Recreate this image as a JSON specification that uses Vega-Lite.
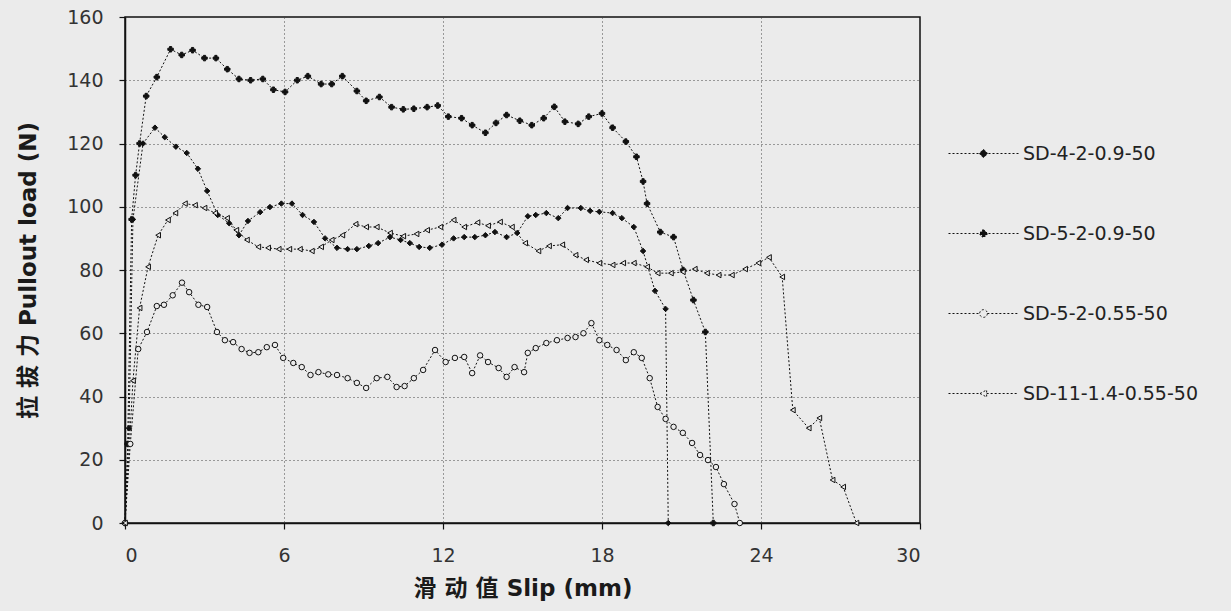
{
  "$schema": "https://vega.github.io/schema/vega-lite/v6.json",
  "autosize": {"type": "none"},
  "width": 795,
  "height": 506,
  "padding": {"left": 125, "top": 17, "right": 311, "bottom": 88},
  "background": "#ebebeb",
  "config": {
    "view": {"stroke": "#111", "strokeWidth": 1.5},
    "axis": {
      "labelFont": "DejaVu Sans", "labelFontSize": 19, "labelColor": "#333",
      "titleFont": "DejaVu Sans, Noto Sans CJK SC", "titleFontSize": 23, "titleFontWeight": "bold", "titleColor": "#1a1a1a",
      "domainColor": "#111", "domainWidth": 1.5, "tickColor": "#111", "tickSize": 6, "tickWidth": 1.2,
      "gridColor": "#444", "gridDash": [1, 3], "gridWidth": 1
    }
  },
  "datasets": {
    "curves": [
      {"series":"SD-4-2-0.9-50","slip":0,"load":0},{"series":"SD-4-2-0.9-50","slip":0.15,"load":30},{"series":"SD-4-2-0.9-50","slip":0.3,"load":96},{"series":"SD-4-2-0.9-50","slip":0.68,"load":120},{"series":"SD-4-2-0.9-50","slip":1.13,"load":125},{"series":"SD-4-2-0.9-50","slip":1.5,"load":122},{"series":"SD-4-2-0.9-50","slip":1.92,"load":119},{"series":"SD-4-2-0.9-50","slip":2.33,"load":117},{"series":"SD-4-2-0.9-50","slip":2.75,"load":112},{"series":"SD-4-2-0.9-50","slip":3.1,"load":105},{"series":"SD-4-2-0.9-50","slip":3.5,"load":97.4},{"series":"SD-4-2-0.9-50","slip":3.93,"load":94.8},{"series":"SD-4-2-0.9-50","slip":4.3,"load":91},{"series":"SD-4-2-0.9-50","slip":4.64,"load":95.5},{"series":"SD-4-2-0.9-50","slip":5.1,"load":98.3},{"series":"SD-4-2-0.9-50","slip":5.47,"load":99.9},{"series":"SD-4-2-0.9-50","slip":5.9,"load":101},{"series":"SD-4-2-0.9-50","slip":6.3,"load":101},{"series":"SD-4-2-0.9-50","slip":6.7,"load":97.4},{"series":"SD-4-2-0.9-50","slip":7.13,"load":95.2},{"series":"SD-4-2-0.9-50","slip":7.55,"load":90},{"series":"SD-4-2-0.9-50","slip":8,"load":87},{"series":"SD-4-2-0.9-50","slip":8.4,"load":86.6},{"series":"SD-4-2-0.9-50","slip":8.75,"load":86.6},{"series":"SD-4-2-0.9-50","slip":9.2,"load":87.6},{"series":"SD-4-2-0.9-50","slip":9.55,"load":88.5},{"series":"SD-4-2-0.9-50","slip":10,"load":90.4},{"series":"SD-4-2-0.9-50","slip":10.4,"load":89.5},{"series":"SD-4-2-0.9-50","slip":10.75,"load":88.5},{"series":"SD-4-2-0.9-50","slip":11.1,"load":87.3},{"series":"SD-4-2-0.9-50","slip":11.5,"load":87},{"series":"SD-4-2-0.9-50","slip":11.96,"load":88},{"series":"SD-4-2-0.9-50","slip":12.4,"load":90},{"series":"SD-4-2-0.9-50","slip":12.8,"load":90.4},{"series":"SD-4-2-0.9-50","slip":13.2,"load":90.4},{"series":"SD-4-2-0.9-50","slip":13.6,"load":91},{"series":"SD-4-2-0.9-50","slip":13.96,"load":92},{"series":"SD-4-2-0.9-50","slip":14.4,"load":90.4},{"series":"SD-4-2-0.9-50","slip":14.8,"load":91.7},{"series":"SD-4-2-0.9-50","slip":15.2,"load":97},{"series":"SD-4-2-0.9-50","slip":15.5,"load":97.4},{"series":"SD-4-2-0.9-50","slip":15.9,"load":98},{"series":"SD-4-2-0.9-50","slip":16.35,"load":96.4},{"series":"SD-4-2-0.9-50","slip":16.7,"load":99.6},{"series":"SD-4-2-0.9-50","slip":17.2,"load":99.6},{"series":"SD-4-2-0.9-50","slip":17.55,"load":98.7},{"series":"SD-4-2-0.9-50","slip":17.9,"load":98.4},{"series":"SD-4-2-0.9-50","slip":18.4,"load":98},{"series":"SD-4-2-0.9-50","slip":18.75,"load":96.4},{"series":"SD-4-2-0.9-50","slip":19.2,"load":93.6},{"series":"SD-4-2-0.9-50","slip":19.55,"load":86},{"series":"SD-4-2-0.9-50","slip":20,"load":73.4},{"series":"SD-4-2-0.9-50","slip":20.4,"load":67.7},{"series":"SD-4-2-0.9-50","slip":20.5,"load":0},
      {"series":"SD-5-2-0.9-50","slip":0,"load":0},{"series":"SD-5-2-0.9-50","slip":0.1,"load":25},{"series":"SD-5-2-0.9-50","slip":0.25,"load":96},{"series":"SD-5-2-0.9-50","slip":0.4,"load":110},{"series":"SD-5-2-0.9-50","slip":0.55,"load":120},{"series":"SD-5-2-0.9-50","slip":0.8,"load":135},{"series":"SD-5-2-0.9-50","slip":1.2,"load":141},{"series":"SD-5-2-0.9-50","slip":1.72,"load":149.8},{"series":"SD-5-2-0.9-50","slip":2.14,"load":148},{"series":"SD-5-2-0.9-50","slip":2.55,"load":149.5},{"series":"SD-5-2-0.9-50","slip":3,"load":147},{"series":"SD-5-2-0.9-50","slip":3.43,"load":147},{"series":"SD-5-2-0.9-50","slip":3.86,"load":143.5},{"series":"SD-5-2-0.9-50","slip":4.3,"load":140.4},{"series":"SD-5-2-0.9-50","slip":4.74,"load":140},{"series":"SD-5-2-0.9-50","slip":5.2,"load":140.4},{"series":"SD-5-2-0.9-50","slip":5.6,"load":137},{"series":"SD-5-2-0.9-50","slip":6.04,"load":136.3},{"series":"SD-5-2-0.9-50","slip":6.5,"load":140},{"series":"SD-5-2-0.9-50","slip":6.9,"load":141.3},{"series":"SD-5-2-0.9-50","slip":7.4,"load":138.8},{"series":"SD-5-2-0.9-50","slip":7.8,"load":138.8},{"series":"SD-5-2-0.9-50","slip":8.2,"load":141.3},{"series":"SD-5-2-0.9-50","slip":8.75,"load":136.6},{"series":"SD-5-2-0.9-50","slip":9.1,"load":133.5},{"series":"SD-5-2-0.9-50","slip":9.6,"load":134.7},{"series":"SD-5-2-0.9-50","slip":10.06,"load":131.5},{"series":"SD-5-2-0.9-50","slip":10.5,"load":130.8},{"series":"SD-5-2-0.9-50","slip":10.9,"load":131},{"series":"SD-5-2-0.9-50","slip":11.4,"load":131.5},{"series":"SD-5-2-0.9-50","slip":11.8,"load":132},{"series":"SD-5-2-0.9-50","slip":12.2,"load":128.5},{"series":"SD-5-2-0.9-50","slip":12.7,"load":128},{"series":"SD-5-2-0.9-50","slip":13.1,"load":125.8},{"series":"SD-5-2-0.9-50","slip":13.6,"load":123.4},{"series":"SD-5-2-0.9-50","slip":14,"load":126.5},{"series":"SD-5-2-0.9-50","slip":14.4,"load":129},{"series":"SD-5-2-0.9-50","slip":14.9,"load":127.2},{"series":"SD-5-2-0.9-50","slip":15.35,"load":125.8},{"series":"SD-5-2-0.9-50","slip":15.8,"load":128},{"series":"SD-5-2-0.9-50","slip":16.2,"load":131.6},{"series":"SD-5-2-0.9-50","slip":16.6,"load":126.9},{"series":"SD-5-2-0.9-50","slip":17.1,"load":126.2},{"series":"SD-5-2-0.9-50","slip":17.5,"load":128.5},{"series":"SD-5-2-0.9-50","slip":18,"load":129.5},{"series":"SD-5-2-0.9-50","slip":18.4,"load":125},{"series":"SD-5-2-0.9-50","slip":18.9,"load":120.6},{"series":"SD-5-2-0.9-50","slip":19.3,"load":115.8},{"series":"SD-5-2-0.9-50","slip":19.55,"load":108},{"series":"SD-5-2-0.9-50","slip":19.7,"load":101},{"series":"SD-5-2-0.9-50","slip":20.2,"load":92},{"series":"SD-5-2-0.9-50","slip":20.7,"load":90.4},{"series":"SD-5-2-0.9-50","slip":21.06,"load":80},{"series":"SD-5-2-0.9-50","slip":21.45,"load":70.5},{"series":"SD-5-2-0.9-50","slip":21.9,"load":60.4},{"series":"SD-5-2-0.9-50","slip":22.2,"load":0},
      {"series":"SD-5-2-0.55-50","slip":0,"load":0},{"series":"SD-5-2-0.55-50","slip":0.2,"load":25},{"series":"SD-5-2-0.55-50","slip":0.5,"load":55},{"series":"SD-5-2-0.55-50","slip":0.83,"load":60.4},{"series":"SD-5-2-0.55-50","slip":1.2,"load":68.6},{"series":"SD-5-2-0.55-50","slip":1.47,"load":69},{"series":"SD-5-2-0.55-50","slip":1.8,"load":72},{"series":"SD-5-2-0.55-50","slip":2.15,"load":76},{"series":"SD-5-2-0.55-50","slip":2.42,"load":73},{"series":"SD-5-2-0.55-50","slip":2.77,"load":69},{"series":"SD-5-2-0.55-50","slip":3.1,"load":68.3},{"series":"SD-5-2-0.55-50","slip":3.47,"load":60.4},{"series":"SD-5-2-0.55-50","slip":3.77,"load":57.8},{"series":"SD-5-2-0.55-50","slip":4.08,"load":57.2},{"series":"SD-5-2-0.55-50","slip":4.4,"load":55},{"series":"SD-5-2-0.55-50","slip":4.7,"load":53.8},{"series":"SD-5-2-0.55-50","slip":5.03,"load":54},{"series":"SD-5-2-0.55-50","slip":5.35,"load":55.6},{"series":"SD-5-2-0.55-50","slip":5.66,"load":56.3},{"series":"SD-5-2-0.55-50","slip":5.97,"load":52.2},{"series":"SD-5-2-0.55-50","slip":6.35,"load":50.6},{"series":"SD-5-2-0.55-50","slip":6.67,"load":49.3},{"series":"SD-5-2-0.55-50","slip":7,"load":46.8},{"series":"SD-5-2-0.55-50","slip":7.3,"load":47.7},{"series":"SD-5-2-0.55-50","slip":7.67,"load":47},{"series":"SD-5-2-0.55-50","slip":8,"load":46.8},{"series":"SD-5-2-0.55-50","slip":8.4,"load":45.8},{"series":"SD-5-2-0.55-50","slip":8.75,"load":44.3},{"series":"SD-5-2-0.55-50","slip":9.1,"load":42.7},{"series":"SD-5-2-0.55-50","slip":9.5,"load":45.8},{"series":"SD-5-2-0.55-50","slip":9.9,"load":46.2},{"series":"SD-5-2-0.55-50","slip":10.25,"load":43},{"series":"SD-5-2-0.55-50","slip":10.55,"load":43.3},{"series":"SD-5-2-0.55-50","slip":10.9,"load":45.8},{"series":"SD-5-2-0.55-50","slip":11.25,"load":48.4},{"series":"SD-5-2-0.55-50","slip":11.7,"load":54.7},{"series":"SD-5-2-0.55-50","slip":12.1,"load":50.9},{"series":"SD-5-2-0.55-50","slip":12.45,"load":52.2},{"series":"SD-5-2-0.55-50","slip":12.8,"load":52.5},{"series":"SD-5-2-0.55-50","slip":13.1,"load":47.4},{"series":"SD-5-2-0.55-50","slip":13.4,"load":53},{"series":"SD-5-2-0.55-50","slip":13.7,"load":50.9},{"series":"SD-5-2-0.55-50","slip":14.1,"load":49},{"series":"SD-5-2-0.55-50","slip":14.4,"load":46.2},{"series":"SD-5-2-0.55-50","slip":14.7,"load":49.3},{"series":"SD-5-2-0.55-50","slip":15.06,"load":47.7},{"series":"SD-5-2-0.55-50","slip":15.2,"load":53.8},{"series":"SD-5-2-0.55-50","slip":15.5,"load":55.3},{"series":"SD-5-2-0.55-50","slip":15.9,"load":56.9},{"series":"SD-5-2-0.55-50","slip":16.3,"load":57.8},{"series":"SD-5-2-0.55-50","slip":16.7,"load":58.5},{"series":"SD-5-2-0.55-50","slip":17,"load":58.8},{"series":"SD-5-2-0.55-50","slip":17.3,"load":60},{"series":"SD-5-2-0.55-50","slip":17.6,"load":63.2},{"series":"SD-5-2-0.55-50","slip":17.9,"load":57.8},{"series":"SD-5-2-0.55-50","slip":18.2,"load":56.3},{"series":"SD-5-2-0.55-50","slip":18.55,"load":54.7},{"series":"SD-5-2-0.55-50","slip":18.9,"load":51.5},{"series":"SD-5-2-0.55-50","slip":19.2,"load":54},{"series":"SD-5-2-0.55-50","slip":19.5,"load":52.2},{"series":"SD-5-2-0.55-50","slip":19.8,"load":45.8},{"series":"SD-5-2-0.55-50","slip":20.1,"load":36.7},{"series":"SD-5-2-0.55-50","slip":20.4,"load":32.9},{"series":"SD-5-2-0.55-50","slip":20.7,"load":30.4},{"series":"SD-5-2-0.55-50","slip":21.05,"load":28.5},{"series":"SD-5-2-0.55-50","slip":21.4,"load":25.3},{"series":"SD-5-2-0.55-50","slip":21.7,"load":21.5},{"series":"SD-5-2-0.55-50","slip":22,"load":19.9},{"series":"SD-5-2-0.55-50","slip":22.3,"load":17.7},{"series":"SD-5-2-0.55-50","slip":22.6,"load":12.3},{"series":"SD-5-2-0.55-50","slip":23,"load":6},{"series":"SD-5-2-0.55-50","slip":23.2,"load":0},
      {"series":"SD-11-1.4-0.55-50","slip":0,"load":0},{"series":"SD-11-1.4-0.55-50","slip":0.3,"load":45},{"series":"SD-11-1.4-0.55-50","slip":0.55,"load":68},{"series":"SD-11-1.4-0.55-50","slip":0.87,"load":81},{"series":"SD-11-1.4-0.55-50","slip":1.25,"load":91},{"series":"SD-11-1.4-0.55-50","slip":1.62,"load":95.8},{"series":"SD-11-1.4-0.55-50","slip":1.9,"load":98},{"series":"SD-11-1.4-0.55-50","slip":2.26,"load":101},{"series":"SD-11-1.4-0.55-50","slip":2.64,"load":100.5},{"series":"SD-11-1.4-0.55-50","slip":3,"load":99.6},{"series":"SD-11-1.4-0.55-50","slip":3.4,"load":98},{"series":"SD-11-1.4-0.55-50","slip":3.85,"load":96.4},{"series":"SD-11-1.4-0.55-50","slip":4.2,"load":92.6},{"series":"SD-11-1.4-0.55-50","slip":4.6,"load":89.5},{"series":"SD-11-1.4-0.55-50","slip":5.03,"load":87.3},{"series":"SD-11-1.4-0.55-50","slip":5.4,"load":87},{"series":"SD-11-1.4-0.55-50","slip":5.8,"load":86.6},{"series":"SD-11-1.4-0.55-50","slip":6.2,"load":86.6},{"series":"SD-11-1.4-0.55-50","slip":6.6,"load":86.6},{"series":"SD-11-1.4-0.55-50","slip":7.05,"load":86},{"series":"SD-11-1.4-0.55-50","slip":7.4,"load":87.3},{"series":"SD-11-1.4-0.55-50","slip":7.8,"load":89.5},{"series":"SD-11-1.4-0.55-50","slip":8.2,"load":91},{"series":"SD-11-1.4-0.55-50","slip":8.7,"load":94.5},{"series":"SD-11-1.4-0.55-50","slip":9.1,"load":93.6},{"series":"SD-11-1.4-0.55-50","slip":9.5,"load":93.6},{"series":"SD-11-1.4-0.55-50","slip":10,"load":91.7},{"series":"SD-11-1.4-0.55-50","slip":10.5,"load":90.7},{"series":"SD-11-1.4-0.55-50","slip":11,"load":91.4},{"series":"SD-11-1.4-0.55-50","slip":11.4,"load":92.6},{"series":"SD-11-1.4-0.55-50","slip":11.9,"load":93.6},{"series":"SD-11-1.4-0.55-50","slip":12.4,"load":95.8},{"series":"SD-11-1.4-0.55-50","slip":12.8,"load":93.6},{"series":"SD-11-1.4-0.55-50","slip":13.3,"load":95},{"series":"SD-11-1.4-0.55-50","slip":13.7,"load":94},{"series":"SD-11-1.4-0.55-50","slip":14.15,"load":95.2},{"series":"SD-11-1.4-0.55-50","slip":14.6,"load":93.6},{"series":"SD-11-1.4-0.55-50","slip":15.1,"load":88.5},{"series":"SD-11-1.4-0.55-50","slip":15.6,"load":86},{"series":"SD-11-1.4-0.55-50","slip":16,"load":87.6},{"series":"SD-11-1.4-0.55-50","slip":16.5,"load":88},{"series":"SD-11-1.4-0.55-50","slip":17,"load":84.7},{"series":"SD-11-1.4-0.55-50","slip":17.4,"load":83.2},{"series":"SD-11-1.4-0.55-50","slip":17.9,"load":82.2},{"series":"SD-11-1.4-0.55-50","slip":18.4,"load":81.6},{"series":"SD-11-1.4-0.55-50","slip":18.8,"load":82.2},{"series":"SD-11-1.4-0.55-50","slip":19.2,"load":82.2},{"series":"SD-11-1.4-0.55-50","slip":19.7,"load":81},{"series":"SD-11-1.4-0.55-50","slip":20.1,"load":79},{"series":"SD-11-1.4-0.55-50","slip":20.6,"load":79},{"series":"SD-11-1.4-0.55-50","slip":21.05,"load":79.4},{"series":"SD-11-1.4-0.55-50","slip":21.5,"load":80.3},{"series":"SD-11-1.4-0.55-50","slip":21.96,"load":79},{"series":"SD-11-1.4-0.55-50","slip":22.4,"load":78.4},{"series":"SD-11-1.4-0.55-50","slip":22.9,"load":78.4},{"series":"SD-11-1.4-0.55-50","slip":23.4,"load":80.3},{"series":"SD-11-1.4-0.55-50","slip":23.9,"load":82.2},{"series":"SD-11-1.4-0.55-50","slip":24.3,"load":84},{"series":"SD-11-1.4-0.55-50","slip":24.8,"load":77.8},{"series":"SD-11-1.4-0.55-50","slip":25.2,"load":35.7},{"series":"SD-11-1.4-0.55-50","slip":25.8,"load":30},{"series":"SD-11-1.4-0.55-50","slip":26.2,"load":33.2},{"series":"SD-11-1.4-0.55-50","slip":26.7,"load":13.6},{"series":"SD-11-1.4-0.55-50","slip":27.1,"load":11.4},{"series":"SD-11-1.4-0.55-50","slip":27.6,"load":0}
    ]
  },
  "data": {"name": "curves"},
  "encoding": {
    "x": {"field": "slip", "type": "quantitative",
      "scale": {"domain": [0, 30], "nice": false, "zero": false},
      "axis": {"values": [0, 6, 12, 18, 24, 30], "title": "滑 动 值 Slip (mm)", "labelPadding": 17, "titlePadding": 12, "grid": true}},
    "y": {"field": "load", "type": "quantitative",
      "scale": {"domain": [0, 160], "nice": false},
      "axis": {"values": [0, 20, 40, 60, 80, 100, 120, 140, 160], "title": "拉 拔 力 Pullout load (N)", "labelPadding": 16, "titlePadding": 26, "grid": true}}
  },
  "layer": [
    {
      "mark": {"type": "line", "color": "#111", "strokeWidth": 1, "strokeDash": [2, 2]},
      "encoding": {"detail": {"field": "series"}}
    },
    {
      "mark": {"type": "point", "filled": true, "stroke": "#111", "strokeWidth": 1, "opacity": 1, "size": 30},
      "encoding": {
        "shape": {"field": "series", "type": "nominal",
          "scale": {"domain": ["SD-4-2-0.9-50", "SD-5-2-0.9-50", "SD-5-2-0.55-50", "SD-11-1.4-0.55-50"],
                    "range": ["diamond", "cross", "circle", "triangle-left"]},
          "legend": null},
        "fill": {"field": "series", "type": "nominal",
          "scale": {"domain": ["SD-4-2-0.9-50", "SD-5-2-0.9-50", "SD-5-2-0.55-50", "SD-11-1.4-0.55-50"],
                    "range": ["#111", "#111", "#ebebeb", "#ebebeb"]},
          "legend": null}
      }
    },
    {
      "mark": {"type": "point", "filled": false, "strokeWidth": 1, "opacity": 0, "size": 30},
      "encoding": {
        "shape": {"field": "series", "type": "nominal",
          "scale": {"domain": ["SD-4-2-0.9-50", "SD-5-2-0.9-50", "SD-5-2-0.55-50", "SD-11-1.4-0.55-50"],
                    "range": [
                      "M-1,0L1,0M0,-0.12L0.12,0L0,0.12L-0.12,0Z",
                      "M-1,0L1,0M-0.04,-0.1L0.04,-0.1L0.04,-0.04L0.1,-0.04L0.1,0.04L0.04,0.04L0.04,0.1L-0.04,0.1L-0.04,0.04L-0.1,0.04L-0.1,-0.04L-0.04,-0.04Z",
                      "M-1,0L-0.11,0M0.11,0L1,0M0.11,0A0.11,0.11 0 1,1 -0.11,0A0.11,0.11 0 1,1 0.11,0Z",
                      "M-1,0L-0.1,0M0.09,0L1,0M-0.1,0L0.09,-0.1L0.09,0.1Z"]},
          "legend": {
            "title": null, "orient": "none", "legendX": 823, "legendY": 101,
            "symbolSize": 4900, "rowPadding": 34, "labelOffset": 4, "labelLimit": 400,
            "symbolOpacity": 1, "symbolDash": [2, 2], "symbolStrokeWidth": 1,
            "labelFont": "DejaVu Sans", "labelFontSize": 19, "labelColor": "#222"
          }},
        "fill": {"field": "series", "type": "nominal",
          "scale": {"domain": ["SD-4-2-0.9-50", "SD-5-2-0.9-50", "SD-5-2-0.55-50", "SD-11-1.4-0.55-50"],
                    "range": ["#111", "#111", "#ebebeb", "#ebebeb"]},
          "legend": {
            "title": null, "orient": "none", "legendX": 823, "legendY": 101,
            "symbolSize": 4900, "rowPadding": 34, "labelOffset": 4, "labelLimit": 400,
            "symbolOpacity": 1, "symbolDash": [2, 2], "symbolStrokeWidth": 1,
            "labelFont": "DejaVu Sans", "labelFontSize": 19, "labelColor": "#222"
          }},
        "stroke": {"field": "series", "type": "nominal",
          "scale": {"domain": ["SD-4-2-0.9-50", "SD-5-2-0.9-50", "SD-5-2-0.55-50", "SD-11-1.4-0.55-50"],
                    "range": ["#111", "#111", "#111", "#111"]},
          "legend": {
            "title": null, "orient": "none", "legendX": 823, "legendY": 101,
            "symbolSize": 4900, "rowPadding": 34, "labelOffset": 4, "labelLimit": 400,
            "symbolOpacity": 1, "symbolDash": [2, 2], "symbolStrokeWidth": 1,
            "labelFont": "DejaVu Sans", "labelFontSize": 19, "labelColor": "#222"
          }}
      }
    }
  ],
  "resolve": {"scale": {"shape": "independent", "fill": "independent", "stroke": "independent"}, "legend": {"shape": "independent", "fill": "independent", "stroke": "independent"}}
}
